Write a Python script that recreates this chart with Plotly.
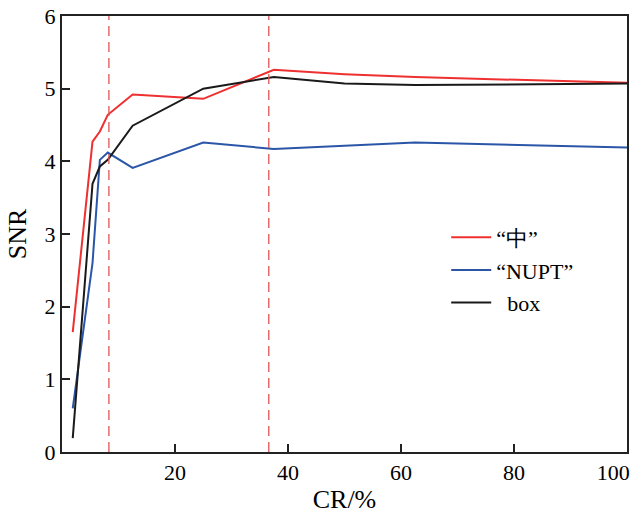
import plotly.graph_objects as go

cr = [1.9, 5.4, 6.7, 8.1, 12.5, 25, 37.5, 50, 62.5, 100]
snr_zhong = [1.65, 4.27, 4.41, 4.64, 4.92, 4.86, 5.26, 5.20, 5.16, 5.08]
snr_nupt = [0.60, 2.60, 4.02, 4.12, 3.91, 4.26, 4.17, 4.22, 4.26, 4.19]
snr_box = [0.19, 3.69, 3.93, 4.02, 4.49, 5.00, 5.16, 5.07, 5.05, 5.07]
dashed_cr = [8.3, 36.6]
x_ticks = [20, 40, 60, 80, 100]
x_tick_text = ["20", "40", "60", "80", "100" + "\u00a0" * 5]
y_ticks = [0, 1, 2, 3, 4, 5, 6]

font = "Liberation Serif, Times New Roman, serif"

fig = go.Figure()
series = [
    ("“中”", snr_zhong, "#ee3030"),
    ("“NUPT”", snr_nupt, "#2b56a8"),
    ("\u00a0\u00a0box", snr_box, "#1a1a1a"),
]
for i, (name, ys, col) in enumerate(series):
    fig.add_trace(go.Scatter(x=cr, y=ys, mode="lines", name=name,
                             legendgroup=f"g{i}",
                             line=dict(color=col, width=2)))

for xv in dashed_cr:
    fig.add_shape(type="line", x0=xv, x1=xv, y0=0, y1=1, xref="x", yref="paper",
                  line=dict(color="#e05555", width=1.3, dash="10px,6px"))

fig.update_layout(
    width=630, height=514,
    margin=dict(l=62, r=3, t=16, b=62),
    plot_bgcolor="white", paper_bgcolor="white",
    font=dict(family=font, size=22, color="black"),
    showlegend=True,
    legend=dict(x=0.68, y=0.54, xanchor="left", yanchor="top",
                bgcolor="rgba(0,0,0,0)", font=dict(size=22, family=font),
                tracegroupgap=1, itemwidth=40),
    xaxis=dict(range=[0, 100], tickvals=x_ticks, ticktext=x_tick_text,
               ticks="inside", ticklen=8,
               tickwidth=1.5, tickcolor="#222", showline=True, linecolor="#222",
               linewidth=2, mirror=True, showgrid=False, zeroline=False,
               automargin=False, ticklabeloverflow="allow",
               title=dict(text="CR/%", standoff=16), tickfont=dict(size=22)),
    yaxis=dict(range=[0, 6], tickvals=y_ticks, ticks="inside", ticklen=8,
               tickwidth=1.5, tickcolor="#222", showline=True, linecolor="#222",
               linewidth=2, mirror=True, showgrid=False, zeroline=False,
               automargin=False, ticklabeloverflow="allow",
               title=dict(text="SNR", standoff=10), tickfont=dict(size=22)),
)

fig.write_html(
    "out.html",
    config={"displayModeBar": False},
    post_script="document.body.style.margin='0';document.body.style.overflow='hidden';",
)
